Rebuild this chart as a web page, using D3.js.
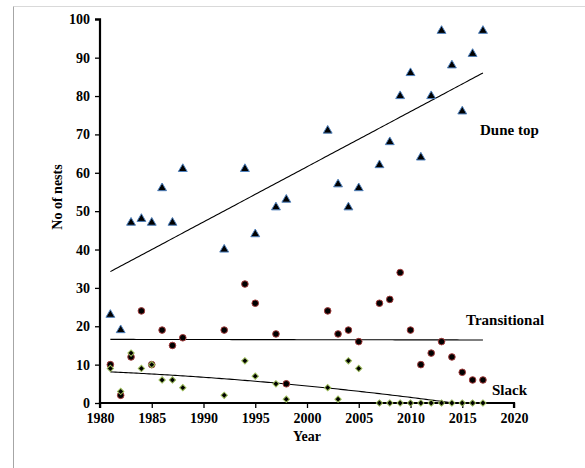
<!DOCTYPE html>
<html>
<head>
<meta charset="utf-8">
<script src="https://cdn.jsdelivr.net/npm/d3@7"></script>
<style>
  body { margin: 0; background: #fff; }
  text { font-family: "Liberation Serif", "Times New Roman", serif; font-weight: bold; }
</style>
</head>
<body>
<div id="chart"></div>
<script>
//Data
const duneYears = [1981, 1982, 1983, 1984, 1985, 1986, 1987, 1988, 1992, 1994, 1995, 1997, 1998,
    2002, 2003, 2004, 2005, 2007, 2008, 2009, 2010, 2011, 2012, 2013, 2014, 2015, 2016, 2017];
const duneTop = [23, 19, 47, 48, 47, 56, 47, 61, 40, 61, 44, 51, 53,
    71, 57, 51, 56, 62, 68, 80, 86, 64, 80, 97, 88, 76, 91, 97];

const transYears = duneYears;
const transitional = [10, 2, 12, 24, 10, 19, 15, 17, 19, 31, 26, 18, 5,
    24, 18, 19, 16, 26, 27, 34, 19, 10, 13, 16, 12, 8, 6, 6];

const slackYears = duneYears;
const slack = [9, 3, 13, 9, 10, 6, 6, 4, 2, 11, 7, 5, 1,
    4, 1, 11, 9, 0, 0, 0, 0, 0, 0, 0, 0, 0, 0, 0];

const xTickValues = [1980, 1985, 1990, 1995, 2000, 2005, 2010, 2015, 2020];
const yTickValues = [0, 10, 20, 30, 40, 50, 60, 70, 80, 90, 100];

const W = 585, H = 468;
const plot = {left: 100, right: 514, top: 19.3, bottom: 403};
const serif = '"Liberation Serif", "Times New Roman", serif';

const svg = d3.select('#chart').append('svg')
    .attr('width', W)
    .attr('height', H);

//Outer frame (only top and left edges are inside the picture)
svg.append('line').attr('x1', 13.5).attr('x2', W).attr('y1', 6.5).attr('y2', 6.5)
    .attr('stroke', '#d9d9d9').attr('stroke-width', 1);
svg.append('line').attr('x1', 13.5).attr('x2', 13.5).attr('y1', 6.5).attr('y2', H)
    .attr('stroke', '#a6a6a6').attr('stroke-width', 1);

//Scales
const x = d3.scaleLinear().domain([1980, 2020]).range([plot.left, plot.right]);
const y = d3.scaleLinear().domain([0, 100]).range([plot.bottom, plot.top]);

//Least squares polynomial fit (order 1 or 2)
function polyFit(xs, ys, order) {
    const n = order + 1;
    const A = [];
    for (let i = 0; i < n; i++) {
        A.push([]);
        for (let j = 0; j <= n; j++) A[i].push(0);
    }
    xs.forEach((xv, k) => {
        for (let i = 0; i < n; i++) {
            for (let j = 0; j < n; j++) A[i][j] += Math.pow(xv, i + j);
            A[i][n] += ys[k] * Math.pow(xv, i);
        }
    });
    //gaussian elimination
    for (let i = 0; i < n; i++) {
        for (let r = i + 1; r < n; r++) {
            const f = A[r][i] / A[i][i];
            for (let c = i; c <= n; c++) A[r][c] -= f * A[i][c];
        }
    }
    const coef = new Array(n).fill(0);
    for (let i = n - 1; i >= 0; i--) {
        let s = A[i][n];
        for (let j = i + 1; j < n; j++) s -= A[i][j] * coef[j];
        coef[i] = s / A[i][i];
    }
    return t => coef.reduce((acc, c, i) => acc + c * Math.pow(t, i), 0);
}

const line = d3.line()
    .x(d => x(d[0]))
    .y(d => y(d[1]));

function trendPoints(years, vals, order) {
    const t0 = years[0];
    const f = polyFit(years.map(v => v - t0), vals, order);
    const ext = d3.extent(years);
    return d3.range(ext[0], ext[1] + 0.001, 0.25).map(t => [t, f(t - t0)]);
}

svg.append('clipPath').attr('id', 'plot-clip')
    .append('rect')
    .attr('x', plot.left).attr('y', plot.top)
    .attr('width', plot.right - plot.left).attr('height', plot.bottom - plot.top);

const trends = svg.append('g').attr('clip-path', 'url(#plot-clip)');

trends.append('path')
    .attr('d', line(trendPoints(duneYears, duneTop, 1)))
    .attr('fill', 'none').attr('stroke', '#000').attr('stroke-width', 1.1);

trends.append('path')
    .attr('d', line(trendPoints(transYears, transitional, 1)))
    .attr('fill', 'none').attr('stroke', '#000').attr('stroke-width', 1.1);

trends.append('path')
    .attr('d', line(trendPoints(slackYears, slack, 2)))
    .attr('fill', 'none').attr('stroke', '#000').attr('stroke-width', 1.1);

//Axes
const yAxis = svg.append('g')
    .attr('transform', `translate(${plot.left}, 0)`)
    .call(d3.axisLeft(y).tickValues(yTickValues).tickSize(5).tickPadding(5));

const xAxis = svg.append('g')
    .attr('transform', `translate(0, ${plot.bottom})`)
    .call(d3.axisBottom(x).tickValues(xTickValues).tickFormat(d3.format('d')).tickSize(5).tickPadding(5));

[xAxis, yAxis].forEach(a => {
    a.attr('font-family', serif).attr('font-size', 14).attr('font-weight', 'bold');
    a.select('.domain').attr('stroke', '#000').attr('stroke-width', 2.2);
    a.selectAll('.tick line').attr('stroke', '#000').attr('stroke-width', 1.3);
    a.selectAll('.tick text')
        .attr('fill', '#000')
        .style('font-family', serif)
        .style('font-weight', 'bold')
        .style('font-size', '14px');
});
yAxis.select('.domain').attr('d', `M-5,${plot.top}H0V${plot.bottom}`);
xAxis.select('.domain').attr('d', `M${plot.left},5V0H${plot.right}V5`);

//Markers
svg.append('g').selectAll('circle')
    .data(transYears.map((t, i) => [t, transitional[i]]))
    .enter()
    .append('circle')
    .attr('cx', d => x(d[0]))
    .attr('cy', d => y(d[1]))
    .attr('r', 3.3)
    .attr('fill', '#000')
    .attr('stroke', '#a33b3b')
    .attr('stroke-width', 1);

svg.append('g').selectAll('path')
    .data(slackYears.map((t, i) => [t, slack[i]]))
    .enter()
    .append('path')
    .attr('d', d3.symbol().type(d3.symbolSquare).size(20))
    .attr('transform', d => `translate(${x(d[0])}, ${y(d[1])}) rotate(45)`)
    .attr('fill', '#000')
    .attr('stroke', '#9bbb59')
    .attr('stroke-width', 1);

svg.append('g').selectAll('path')
    .data(duneYears.map((t, i) => [t, duneTop[i]]))
    .enter()
    .append('path')
    .attr('d', d3.symbol().type(d3.symbolTriangle).size(34))
    .attr('transform', d => `translate(${x(d[0])}, ${y(d[1])})`)
    .attr('fill', '#000')
    .attr('stroke', '#4f81bd')
    .attr('stroke-width', 1);

//Series labels
const labels = [
    {text: 'Dune top', x: 480, y: 135},
    {text: 'Transitional', x: 466, y: 325},
    {text: 'Slack', x: 492, y: 395}
];
svg.append('g').selectAll('text')
    .data(labels)
    .enter()
    .append('text')
    .attr('x', d => d.x)
    .attr('y', d => d.y)
    .style('font-family', serif)
    .style('font-size', '15px')
    .text(d => d.text);

//Axis titles
svg.append('text')
    .attr('x', 307)
    .attr('y', 441)
    .attr('text-anchor', 'middle')
    .style('font-family', serif)
    .style('font-size', '14px')
    .text('Year');

svg.append('text')
    .attr('transform', 'translate(62, 197) rotate(-90)')
    .attr('text-anchor', 'middle')
    .style('font-family', serif)
    .style('font-size', '14px')
    .text('No of nests');
</script>
</body>
</html>
